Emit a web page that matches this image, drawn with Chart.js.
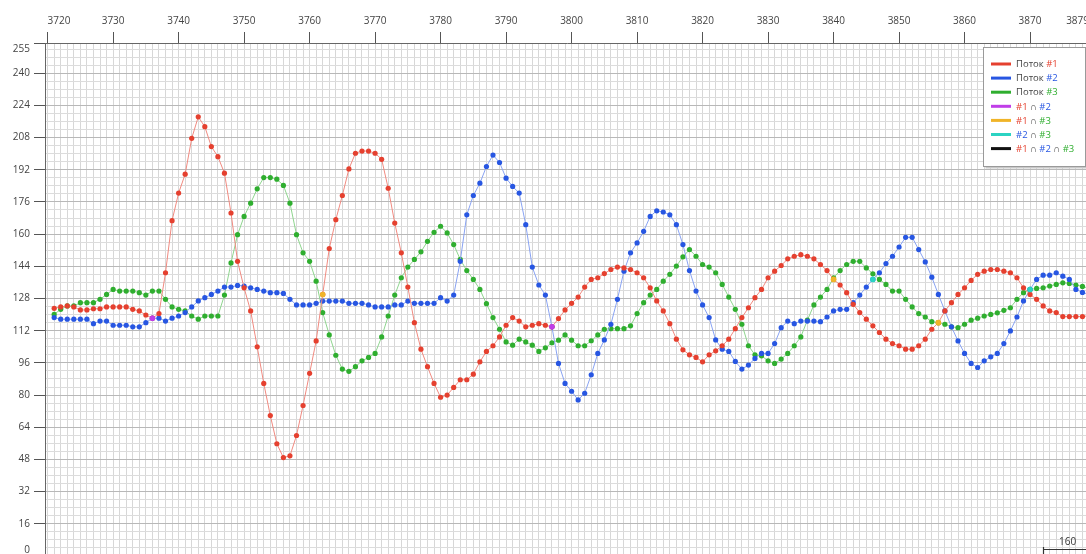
<!DOCTYPE html>
<html><head><meta charset="utf-8">
<script src="https://cdn.jsdelivr.net/npm/chart.js@4.4.1/dist/chart.umd.min.js"></script>
<style>
html,body{margin:0;padding:0;overflow:hidden;background:#fff;width:1086px;height:554px}
#wrap{position:absolute;left:0;top:0;width:1093px;height:560px}
</style>
</head><body><div id="wrap"><canvas id="c" width="1093" height="560"></canvas></div>
<script>
// ---------- data ----------
const xStart = 3721;            // first sample position
const sampleCount = 160;        // shown in the corner box
const stream1 = [123.1,123.8,124.3,123.8,122.3,122.3,122.9,122.9,123.8,123.8,123.8,123.8,122.6,121.8,119.8,118.2,120.5,140.8,166.7,180.4,
189.8,207.6,218.3,213.4,203.5,198.5,190.3,170.5,146.5,133.3,121.8,104,85.8,69.8,55.8,48.9,49.8,59.9,74.8,90.8,
106.9,130,152.8,167.2,179.2,192.4,200.2,201.3,201.3,200.2,197.2,182.8,165.5,150.7,133.7,116,102.8,94.1,85.8,78.9,
80,83.8,87.6,87.6,90.4,96.5,101.7,104.5,108.9,114.7,118.5,116.8,113.9,114.7,115.5,114.7,113.9,118,122.3,125.6,
128.7,133.7,137.5,138.3,140.4,142.4,143.6,143.2,142.4,140.8,138.3,133.3,126.8,121.8,115.5,107.8,102.5,100,98.7,96.5,
100,102,104.5,107.8,113,118.5,123.4,128.4,132.5,138.3,141.6,144.4,147.7,149,149.8,149,147.7,144.9,141.9,137.5,
134.7,130.9,125.1,121,117.7,114.4,111.1,107.8,105.6,104.5,102.8,102.8,104.5,107.8,112.7,116,121.8,125.9,130,133.3,
137,140,141.6,142.4,142.4,141.6,140.8,138.3,133.3,130,127.6,124.3,121.8,121,119,119,119,119,119.5,120];
const stream2 = [118.5,117.7,117.7,117.7,117.7,117.7,115.5,116.8,116.8,114.7,114.7,114.7,113.9,113.9,116,118.2,118.2,116.8,118.2,119.3,
121,123.8,126.8,128.4,130,131.7,133.7,133.7,134.5,134.2,133.3,132.5,131.7,130.9,130.9,130.5,127.6,124.8,124.8,124.8,
125.6,126.7,126.7,126.7,126.7,125.6,125.6,125.6,124.8,123.8,123.8,123.8,124.8,124.8,126.7,125.6,125.6,125.6,125.6,128.4,
126.7,129.7,146.5,169.6,179.2,185.3,193.6,199.3,195.6,187.8,183.7,180.4,164.7,143.6,134.7,129.7,113.9,95.7,85.8,81.9,
77.6,80.9,90.1,100.7,107.4,115.2,127.6,141.6,150.7,155.6,161.4,168.8,171.6,171,169.6,164.7,154.8,141.9,131.7,124.8,
118.5,107.4,102.8,101.7,96.7,92.9,94.9,98.2,100.7,100.7,105.6,113.5,116.8,115.5,116.8,116.8,116.8,116.5,118.8,121.8,
122.6,122.6,125.9,129.7,133.7,137.5,140.8,145.4,149,153.6,158.4,158.4,152.3,146.2,138.6,130,121.8,113.9,106.9,100.7,
95.7,93.7,97,99,100.7,105.6,111.9,118.8,126.8,132.5,137.5,139.6,139.6,140.8,139.1,137.5,132.5,131,130,129];
const stream3 = [120.1,122.6,124.3,124.3,125.9,125.9,125.9,127.6,130,132.5,131.7,131.7,131.7,130.9,129.7,131.7,131.7,127.6,123.8,122.6,
121.8,119.3,117.7,119.3,119.3,119.3,129.7,145.7,159.7,168.8,175.4,182.5,188.1,188.1,187.3,184.2,175.4,159.7,150.7,146.5,
136.6,121,109.9,99.8,92.9,91.8,94.1,97,98.7,100.7,108.9,119.3,129.7,138.3,143.6,147.4,151.2,156.4,160.9,163.9,
160.6,154.8,147.4,141.9,137.5,132.5,125.4,118.5,112.7,106.4,104.8,107.8,106.4,104.8,101.7,103.5,106,107.3,109.9,107.3,
104.5,104.5,107,109.9,112.7,113,113,113,114.4,120.5,125.9,129.7,132.5,136.6,140,144.1,148.7,152.3,149,144.9,
143.6,140.8,135,128.7,122.6,115.2,104.5,100,99.5,97,95.7,97.9,100.7,104.5,108.9,117.2,124.8,128.7,132.5,138.3,
141.9,144.9,146.5,146.5,143.2,140.3,137.5,135,131.7,131.7,127.6,123.8,120.5,118.8,116.5,116,115.2,113.9,113.5,115.2,
117.2,118.2,119.3,120.1,120.9,122.1,123.4,127.6,130.9,132.5,133,133.3,134.2,135,135.8,135.5,134.7,134,133,133];
// positions where two / three streams coincide
const cross12 = [3736, 3797];
const cross13 = [3762, 3840, 3856];
const cross23 = [3846, 3870];
const cross123 = [];
// axis labels
const xTickLabels = [3720,3730,3740,3750,3760,3770,3780,3790,3800,3810,3820,3830,3840,3850,3860,3870,3879];
const yTickLabels = [0,16,32,48,64,80,96,112,128,144,160,176,192,208,224,240,255];

// ---------- styling ----------
const C = {
  red:'#e5402f', redLine:'#f08a80',
  blue:'#2756e2', blueLine:'#89a3f2',
  green:'#2fae2f', greenLine:'#8fd58f',
  mag:'#c03ee8', orange:'#f0b428', cyan:'#2bd3c2', black:'#111111',
  text:'#444444'
};
const FONT = '"Open Sans", "Noto Sans", sans-serif';

const xs = Array.from({length: sampleCount}, (_, i) => xStart + i);
const pts = arr => xs.map((x, i) => ({x, y: arr[i]}));
const crossPts = (list, arr) => list.map(x => ({x, y: arr[x - xStart]}));

const gridX = [];
for (let v = 3720; v <= 3879; v++) gridX.push(v);
const gridY = [];
for (let v = 0; v <= 252; v += 4) gridY.push(v);
gridY.push(255);

function lineDs(label, arr, dot, line) {
  return {label, data: pts(arr), borderColor: line, borderWidth: 1, backgroundColor: dot,
    pointRadius: 2.6, pointBackgroundColor: dot, pointBorderWidth: 0, tension: 0, order: 2};
}
function crossDs(label, list, arr, col) {
  return {label, data: crossPts(list, arr), showLine: false, borderColor: col, backgroundColor: col,
    pointRadius: 2.8, pointBackgroundColor: col, pointBorderWidth: 0, order: 1};
}

const legendRows = [
  {col: C.red,    parts: [['Поток ', C.text], ['#1', C.red]]},
  {col: C.blue,   parts: [['Поток ', C.text], ['#2', C.blue]]},
  {col: C.green,  parts: [['Поток ', C.text], ['#3', C.green]]},
  {col: C.mag,    parts: [['#1', C.red], [' ∩ ', C.text], ['#2', C.blue]]},
  {col: C.orange, parts: [['#1', C.red], [' ∩ ', C.text], ['#3', C.green]]},
  {col: C.cyan,   parts: [['#2', C.blue], [' ∩ ', C.text], ['#3', C.green]]},
  {col: C.black,  parts: [['#1', C.red], [' ∩ ', C.text], ['#2', C.blue], [' ∩ ', C.text], ['#3', C.green]]}
];

const overlay = {
  id: 'overlay',
  afterDraw(chart) {
    const ctx = chart.ctx;
    ctx.save();
    // legend box
    const bx = 983.5, by = 47.5, bw = 102, bh = 119;
    ctx.fillStyle = '#c9c9c9';
    ctx.fillRect(bx + 2, by + 2, bw, bh);
    ctx.fillStyle = '#ffffff';
    ctx.fillRect(bx, by, bw, bh);
    ctx.strokeStyle = '#9a9a9a';
    ctx.lineWidth = 1;
    ctx.strokeRect(bx, by, bw, bh);
    ctx.font = '9.5px ' + FONT;
    ctx.textBaseline = 'middle';
    legendRows.forEach((r, i) => {
      const y = 64 + i * 14.1;
      ctx.strokeStyle = r.col;
      ctx.lineWidth = 3;
      ctx.beginPath(); ctx.moveTo(991, y); ctx.lineTo(1011, y); ctx.stroke();
      let x = 1016;
      r.parts.forEach(([t, c]) => {
        ctx.fillStyle = c;
        ctx.fillText(t, x, y + 0.5);
        x += ctx.measureText(t).width;
      });
    });
    // sample counter box (bottom right)
    ctx.strokeStyle = '#333';
    ctx.lineWidth = 1.2;
    ctx.beginPath();
    ctx.moveTo(1043.5, 547); ctx.lineTo(1043.5, 554);
    ctx.moveTo(1043.5, 549.5); ctx.lineTo(1086, 549.5);
    ctx.stroke();
    ctx.fillStyle = '#333';
    ctx.font = '10px ' + FONT;
    ctx.textAlign = 'left';
    ctx.textBaseline = 'middle';
    ctx.fillText(String(sampleCount), 1059, 542);
    ctx.restore();
  }
};

new Chart(document.getElementById('c'), {
  type: 'line',
  data: {
    datasets: [
      lineDs('Поток #1', stream1, C.red, C.redLine),
      lineDs('Поток #2', stream2, C.blue, C.blueLine),
      lineDs('Поток #3', stream3, C.green, C.greenLine),
      crossDs('#1 ∩ #2', cross12, stream1, C.mag),
      crossDs('#1 ∩ #3', cross13, stream1, C.orange),
      crossDs('#2 ∩ #3', cross23, stream2, C.cyan),
      crossDs('#1 ∩ #2 ∩ #3', cross123, stream1, C.black)
    ]
  },
  options: {
    responsive: false, animation: false, devicePixelRatio: 1,
    layout: {padding: 0},
    plugins: {legend: {display: false}, tooltip: {enabled: false}},
    scales: {
      x: {
        type: 'linear', position: 'top', min: 3719.6, max: 3879,
        afterBuildTicks: s => { s.ticks = gridX.map(v => ({value: v})); },
        afterFit: s => { s.height = 43; s.paddingLeft = 0; s.paddingRight = 0; },
        ticks: {autoSkip: false, maxRotation: 0, minRotation: 0, align: 'inner', padding: 5,
          color: C.text, font: {family: FONT, size: 10},
          callback: v => xTickLabels.includes(v) ? String(v) : ''},
        grid: {color: '#d7d7d7', lineWidth: 1, tickLength: 11,
          tickColor: c => (c.tick && xTickLabels.includes(c.tick.value)) ? '#555' : 'rgba(0,0,0,0)'},
        border: {color: '#666', width: 1}
      },
      y: {
        type: 'linear', position: 'left', min: 0, max: 255,
        afterBuildTicks: s => { s.ticks = gridY.map(v => ({value: v})); },
        afterFit: s => { s.width = 45; s.paddingTop = 0; s.paddingBottom = 0; },
        ticks: {autoSkip: false, padding: 4, color: C.text, font: {family: FONT, size: 10},
          callback: v => v === 255 ? ['', '255'] : (v === 0 ? ['0', ''] : (yTickLabels.includes(v) ? String(v) : ''))},
        grid: {lineWidth: 1, tickLength: 11,
          color: c => (c.tick && c.tick.value % 16 === 0) ? '#b8b8b8' : '#dcdcdc',
          tickColor: c => (c.tick && yTickLabels.includes(c.tick.value)) ? '#555' : 'rgba(0,0,0,0)'},
        border: {color: '#666', width: 1}
      }
    }
  },
  plugins: [overlay]
});
</script>
</body></html>
